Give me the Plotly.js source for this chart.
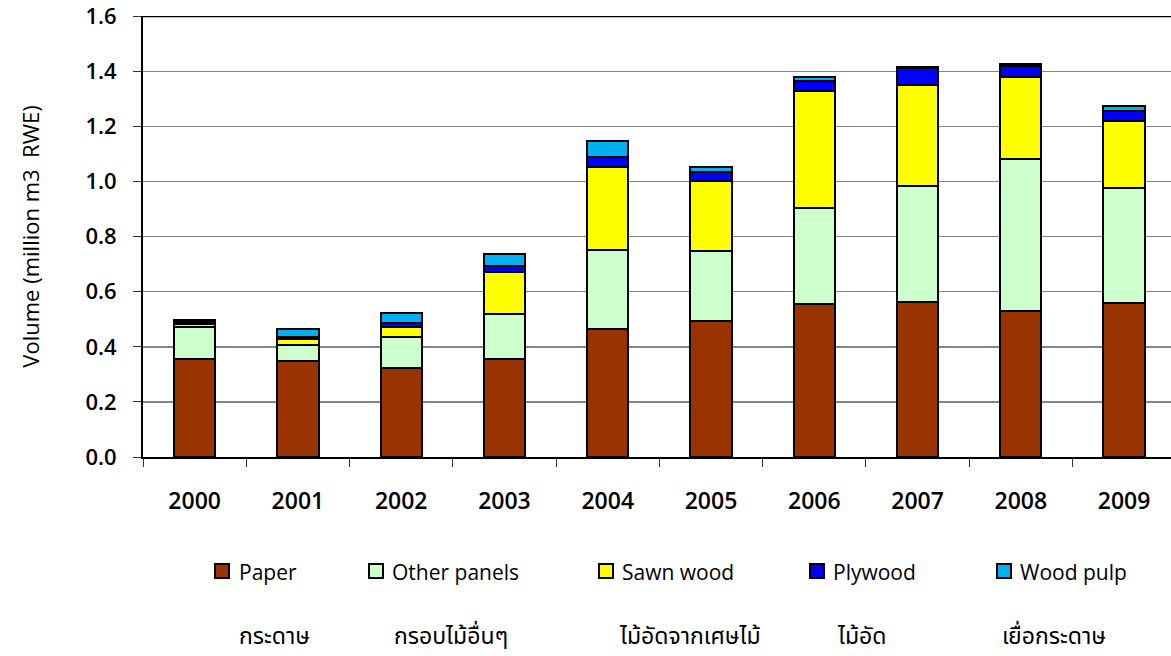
<!DOCTYPE html>
<html>
<head>
<meta charset="utf-8">
<script src="https://cdn.plot.ly/plotly-3.0.1.min.js"></script>
<style>
html, body { margin: 0; padding: 0; overflow: hidden; background: #fff; }
#chart { width: 1171px; height: 656px; }
</style>
</head>
<body>
<div id="chart"></div>
<script>
// ---- data ----
const years = ['2000','2001','2002','2003','2004','2005','2006','2007','2008','2009'];
const paper       = [0.354, 0.347, 0.324, 0.357, 0.465, 0.492, 0.555, 0.561, 0.531, 0.558];
const otherPanels = [0.119, 0.061, 0.111, 0.162, 0.288, 0.257, 0.348, 0.424, 0.549, 0.420];
const sawnWood    = [0.008, 0.019, 0.036, 0.153, 0.300, 0.254, 0.424, 0.366, 0.300, 0.240];
const plywood     = [0.008, 0.010, 0.017, 0.023, 0.036, 0.032, 0.039, 0.060, 0.040, 0.039];
const woodPulp    = [0.009, 0.029, 0.033, 0.042, 0.058, 0.018, 0.012, 0.006, 0.008, 0.018];
const seriesNames = ['Paper', 'Other panels', 'Sawn wood', 'Plywood', 'Wood pulp'];
const thaiNames   = ['กระดาษ', 'กรอบไม้อื่นๆ', 'ไม้อัดจากเศษไม้', 'ไม้อัด', 'เยื่อกระดาษ'];
const seriesColors = ['#993300', '#CCFFCC', '#FFFF00', '#0000FF', '#00B0F0'];
const yTitle = 'Volume (million m3  RWE)';

const seriesValues = [paper, otherPanels, sawnWood, plywood, woodPulp];

// ---- geometry helpers (pixel -> paper) ----
const W = 1171, H = 656;
const mL = 143, mR = 0, mT = 16, mB = 199;
const plotW = W - mL - mR, plotH = H - mT - mB;
const px = x => (x - mL) / plotW;
const py = y => (H - mB - y) / plotH;

const traces = seriesNames.map((name, i) => ({
  type: 'bar',
  name: name,
  x: years,
  y: seriesValues[i],
  marker: { color: seriesColors[i], line: { color: '#000000', width: 2 } },
  showlegend: false,
  hoverinfo: 'x+y+name'
}));

// custom legend (swatches + labels), Thai captions beneath
const swatchLeft = [214, 368, 598, 809, 996];
const textLeft   = [237, 390, 620, 831, 1018];
const thaiLeft   = [237, 392, 617, 835, 1000];
const shapes = [
  { type: 'line', xref: 'paper', yref: 'y', x0: 0, x1: 1, y0: 1.6, y1: 1.6,
    line: { color: '#000000', width: 2 } }
];
const annotations = [];
seriesNames.forEach((name, i) => {
  shapes.push({
    type: 'rect', xref: 'paper', yref: 'paper',
    x0: px(swatchLeft[i] + 1), x1: px(swatchLeft[i] + 15),
    y0: py(578), y1: py(564),
    fillcolor: seriesColors[i], line: { color: '#000000', width: 2 }
  });
  annotations.push({
    xref: 'paper', yref: 'paper', x: px(textLeft[i]), y: py(572),
    xanchor: 'left', yanchor: 'middle', showarrow: false, text: name,
    font: { family: 'Open Sans, sans-serif', size: 21, color: '#000000' }
  });
  annotations.push({
    xref: 'paper', yref: 'paper', x: px(thaiLeft[i]), y: py(637),
    xanchor: 'left', yanchor: 'middle', showarrow: false, text: thaiNames[i],
    font: { family: 'Noto Sans Thai, Noto Sans, DejaVu Sans, sans-serif', size: 23, color: '#000000' }
  });
});

const layout = {
  width: W, height: H, autosize: false,
  margin: { l: mL, r: mR, t: mT, b: mB, pad: 0 },
  barmode: 'stack',
  bargap: 0.6,
  paper_bgcolor: '#ffffff', plot_bgcolor: '#ffffff',
  showlegend: false,
  xaxis: {
    type: 'category',
    range: [-0.5, 9.454],
    showgrid: false, zeroline: false,
    showline: true, linecolor: '#000000', linewidth: 2,
    ticks: 'outside', tickson: 'boundaries', ticklen: 8, tickwidth: 1, tickcolor: '#333333',
    ticklabelstandoff: 22,
    tickfont: { family: 'Open Sans, sans-serif', size: 23, weight: 600, color: '#000000' },
    fixedrange: true
  },
  yaxis: {
    range: [0, 1.6008], dtick: 0.2, tick0: 0, tickformat: '.1f',
    ticklabeloverflow: 'allow',
    showgrid: true, gridcolor: '#858585', gridwidth: 1.5,
    zeroline: false,
    showline: true, linecolor: '#000000', linewidth: 2,
    ticks: 'outside', ticklen: 8, tickwidth: 1, tickcolor: '#333333',
    ticklabelstandoff: 12,
    tickfont: { family: 'Open Sans, sans-serif', size: 22, weight: 600, color: '#000000' },
    title: { text: yTitle, standoff: 40,
             font: { family: 'Open Sans, sans-serif', size: 22, color: '#000000' } },
    automargin: false,
    fixedrange: true
  },
  shapes: shapes,
  annotations: annotations
};

Plotly.newPlot('chart', traces, layout, { displayModeBar: false, staticPlot: true });
</script>
</body>
</html>
